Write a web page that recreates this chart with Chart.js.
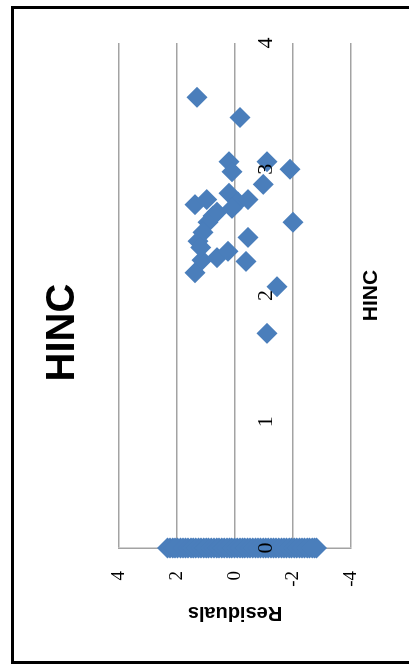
<!DOCTYPE html>
<html>
<head>
<meta charset="utf-8">
<script src="https://cdn.jsdelivr.net/npm/chart.js@4.4.0/dist/chart.umd.min.js"></script>
<style>
  html, body { margin: 0; padding: 0; background: #fff; overflow: hidden; }
  body { width: 409px; height: 666px; position: relative; }
  /* the chart is laid out flat (666 x 409) and turned a quarter left */
  #chartBox {
    position: absolute; left: 0; top: 0; width: 666px; height: 409px;
    transform-origin: 0 0;
    transform: translate(0, 666px) rotate(-90deg);
  }
  /* frame of the chart object: the right side is cut off in the picture */
  .edge { position: absolute; background: #000; pointer-events: none; }
  #edgeLeft { left: 11px; top: 6px; width: 3px; height: 658px; }
  #edgeTop { left: 11px; top: 6px; width: 398px; height: 3px; }
  #edgeBottom { left: 11px; top: 661px; width: 398px; height: 3px; }
</style>
</head>
<body>
<div id="chartBox"><canvas id="residualChart" width="666" height="409"></canvas></div>
<div class="edge" id="edgeLeft"></div>
<div class="edge" id="edgeTop"></div>
<div class="edge" id="edgeBottom"></div>
<script>
// ==========================
// Data
// ==========================
// many households sit at HINC = 0, their residuals run from about 2.3 down to -2.8
const hincZeroResiduals = [
  2.33, 2.24, 2.15, 2.07, 1.98, 1.88, 1.79, 1.71, 1.62, 1.52, 1.44, 1.35, 1.26,
  1.17, 1.08, 0.99, 0.91, 0.82, 0.72, 0.63, 0.55, 0.46, 0.37, 0.28, 0.19, 0.11,
  0.02, -0.08, -0.17, -0.26, -0.34, -0.43, -0.52, -0.61, -0.71, -0.79, -0.88,
  -0.97, -1.06, -1.15, -1.24, -1.33, -1.41, -1.51, -1.60, -1.69, -1.78, -1.87,
  -1.95, -2.04, -2.13, -2.22, -2.31, -2.40, -2.49, -2.57, -2.66, -2.74, -2.81
];
const hincOther = [
  3.57, 3.41, 3.06, 2.98, 3.06, 3.00, 2.88, 2.72, 2.76, 2.81,
  2.74, 2.76, 2.69, 2.63, 2.58, 2.58, 2.50, 2.43, 2.46, 2.28,
  2.30, 2.35, 2.27, 2.18, 2.07, 1.70, 2.66, 2.38
];
const residualsOther = [
  1.31, -0.17, 0.21, 0.10, -1.10, -1.90, -0.97, 1.38, 0.97, 0.21,
  -0.10, -0.45, 0.10, 0.76, 0.93, -2.00, 1.10, 1.28, -0.45, 1.14,
  0.62, 0.24, -0.38, 1.38, -1.45, -1.10, 0.62, 1.18
];
const hincTicks = [0, 1, 2, 3, 4];
const residualTicks = [-4, -2, 0, 2, 4];

const points = hincZeroResiduals
  .map((r) => ({ x: 0, y: r }))
  .concat(hincOther.map((h, i) => ({ x: h, y: residualsOther[i] })));

const gridGrey = "#A3A3A3";
const markerBlue = "#4A7EBB";
const serif = "'Liberation Serif', 'DejaVu Serif', serif";
const sans = "'Liberation Sans', Arial, sans-serif";

new Chart(document.getElementById("residualChart"), {
  type: "scatter",
  data: {
    datasets: [
      {
        label: "Residuals",
        data: points,
        pointStyle: "rectRot",
        pointRadius: 10.5,
        pointHoverRadius: 10.5,
        backgroundColor: markerBlue,
        borderColor: markerBlue,
        borderWidth: 0,
        clip: false,
      },
    ],
  },
  options: {
    responsive: false,
    animation: false,
    events: [],
    layout: { padding: { left: 44, right: 43, top: 0, bottom: 0 } },
    plugins: {
      legend: { display: false },
      tooltip: { enabled: false },
      title: {
        display: true,
        text: "HINC",
        color: "#000",
        font: { family: sans, size: 40, weight: "bold" },
        padding: { top: 38.5, bottom: 32.5 },
      },
    },
    scales: {
      x: {
        type: "linear",
        min: 0,
        max: 4,
        position: { y: 0 },
        afterBuildTicks: (s) => { s.ticks = hincTicks.map((v) => ({ value: v })); },
        grid: { display: false, drawTicks: false },
        border: { display: false },
        // labels sit on top of the markers, as in the spreadsheet
        ticks: { z: 1, color: "#000", font: { family: serif, size: 22 }, padding: 18, maxRotation: 0 },
      },
      xTitle: {
        type: "linear",
        axis: "x",
        position: "bottom",
        min: 0,
        max: 4,
        grid: { display: false, drawTicks: false },
        border: { display: false },
        ticks: { display: false },
        title: {
          display: true,
          text: "HINC",
          color: "#000",
          font: { family: sans, size: 21, weight: "bold" },
          padding: { top: 0, bottom: 25 },
        },
        afterFit: (s) => { s.height = 58; },
      },
      y: {
        type: "linear",
        min: -4,
        max: 4,
        position: "left",
        afterBuildTicks: (s) => { s.ticks = residualTicks.map((v) => ({ value: v })); },
        afterFit: (s) => { s.width = 74; },
        grid: { color: gridGrey, lineWidth: 1.5, drawTicks: false },
        border: { display: true, color: gridGrey, width: 1.5 },
        ticks: { color: "#000", font: { family: serif, size: 19 }, padding: 23 },
        title: {
          display: true,
          text: "Residuals",
          color: "#000",
          font: { family: sans, size: 20, weight: "bold" },
          padding: { top: -3, bottom: 0 },
        },
      },
    },
  },
});
</script>
</body>
</html>
